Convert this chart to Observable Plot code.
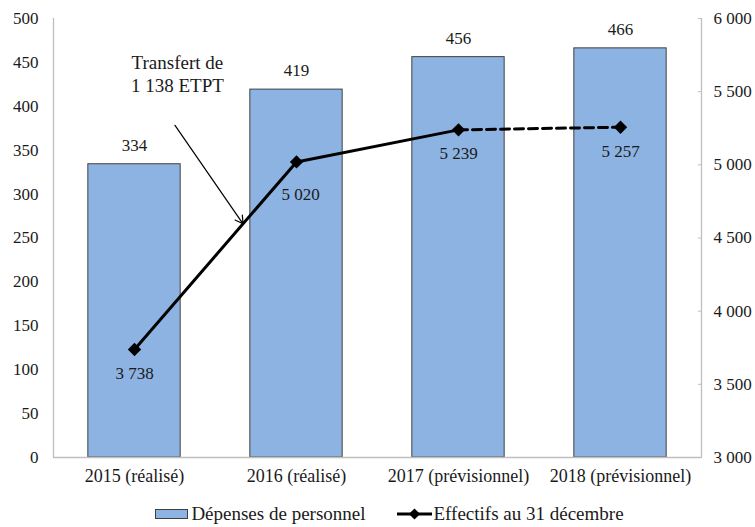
<!DOCTYPE html>
<html>
<head>
<meta charset="utf-8">
<script src="https://cdn.jsdelivr.net/npm/d3@7"></script>
<script src="https://cdn.jsdelivr.net/npm/@observablehq/plot@0.6"></script>
<style>
  body { margin: 0; background: #fff; color: #1a1a1a; }
  #chart svg { display: block; }
  #legend { display: flex; justify-content: center; align-items: center; gap: 31px; height: 22px; margin-top: 13px; padding-left: 23px; font-size: 19px; }
  #legend .item { display: flex; align-items: center; gap: 2px; }
</style>
</head>
<body style="font-family:'Liberation Serif', serif">
<div id="chart"></div>
<div id="legend" style="font-family:'Liberation Serif', serif"></div>
<script>
// Personnel spending (left axis, M€) and headcount at 31 December (right axis)
const years = ["2015 (réalisé)", "2016 (réalisé)", "2017 (prévisionnel)", "2018 (prévisionnel)"];
const depenses = [334, 419, 456, 466];
const effectifs = [3738, 5020, 5239, 5257];
const leftTicks = [0, 50, 100, 150, 200, 250, 300, 350, 400, 450, 500];
const rightTicks = [3000, 3500, 4000, 4500, 5000, 5500, 6000];
const seriesNames = ["Dépenses de personnel", "Effectifs au 31 décembre"];

// Annotation: transfer of staff between 2015 and 2016
const noteText = "Transfert de\n1 138 ETPT";
const noteAt = { x: 0.265, y: 5625 };
const arrowFrom = { x: 0.25, y: 5270 };
const arrowAlong = 0.67; // position of the arrow tip along the 2015–2016 segment

const serif = "'Liberation Serif', serif";
const barColor = "#8DB3E2";
const barStroke = "#404040";
const axisGray = "#BFBFBF";
const ink = "#1a1a1a";

// Map headcount onto the left (spending) scale: 3 000–6 000 ↔ 0–500
const rMin = 3000, rMax = 6000, lMax = 500;
const toLeft = v => (v - rMin) * lMax / (rMax - rMin);
const fromLeft = v => rMin + v * (rMax - rMin) / lMax;

const fr = d3.formatLocale({ decimal: ",", thousands: "\u00a0", grouping: [3], currency: ["", " €"] });
const fmt = fr.format(",d");

const idx = years.map((_, i) => i);
const halfBar = 0.285;

const tipX = arrowAlong;
const tipY = effectifs[0] + arrowAlong * (effectifs[1] - effectifs[0]);

const txt = { fontFamily: serif, fontSize: 17, fill: ink };

const chart = Plot.plot({
  width: 755,
  height: 490,
  marginLeft: 53,
  marginRight: 54,
  marginTop: 18,
  marginBottom: 33,
  style: "font-family: 'Liberation Serif', serif; font-size: 17px; color: #1a1a1a; background: #fff;",
  x: { type: "linear", domain: [-0.5, years.length - 0.5], axis: null },
  y: { domain: [0, lMax], axis: null },
  marks: [
    Plot.rectY(idx, { x1: i => i - halfBar, x2: i => i + halfBar, y: i => depenses[i], fill: barColor, stroke: barStroke, strokeWidth: 1 }),
    Plot.text(idx, { x: i => i, y: i => depenses[i], text: i => String(depenses[i]), dy: -19, ...txt }),
    // axes frame
    Plot.ruleY([0], { stroke: axisGray, strokeWidth: 1.3 }),
    Plot.ruleX([-0.5], { y1: 0, y2: lMax, stroke: axisGray, strokeWidth: 1.3 }),
    Plot.ruleX([years.length - 0.5], { y1: 0, y2: lMax, stroke: axisGray, strokeWidth: 1.3 }),
    Plot.axisX({ ticks: idx, tickFormat: i => years[i], tickSize: 0, tickPadding: 12, anchor: "bottom", ...txt, fontSize: 18 }),
    Plot.axisY({ ticks: leftTicks, tickSize: 0, tickPadding: 15, anchor: "left", ...txt }),
    Plot.axisY({ anchor: "right", ticks: rightTicks.map(toLeft), tickFormat: d => fmt(Math.round(fromLeft(d))), tickSize: -4, tickPadding: 16, stroke: axisGray, ...txt }),
    // headcount line: solid for actuals to 2017, dashed to 2018
    Plot.line(idx.slice(0, 3), { x: i => i, y: i => toLeft(effectifs[i]), stroke: "#000", strokeWidth: 3 }),
    Plot.line(idx.slice(2), { x: i => i, y: i => toLeft(effectifs[i]), stroke: "#000", strokeWidth: 3, strokeDasharray: "9,5" }),
    Plot.dot(idx, { x: i => i, y: i => toLeft(effectifs[i]), symbol: "diamond2", r: 6, fill: "#000", stroke: "none" }),
    Plot.text(idx.filter(i => i !== 1), { x: i => i, y: i => toLeft(effectifs[i]), text: i => fmt(effectifs[i]), dy: 24, ...txt }),
    Plot.text([1], { x: i => i, y: i => toLeft(effectifs[i]), text: i => fmt(effectifs[i]), dy: 33, dx: 4, ...txt }),
    // annotation
    Plot.text([noteText], { x: noteAt.x, y: toLeft(noteAt.y), text: d => d, lineHeight: 1.22, ...txt, fontSize: 19 }),
    Plot.arrow([0], { x1: arrowFrom.x, y1: toLeft(arrowFrom.y), x2: tipX, y2: toLeft(tipY), stroke: "#000", strokeWidth: 1.2, headLength: 11 })
  ]
});
document.getElementById("chart").append(chart);

// Legend below the chart
const legend = document.getElementById("legend");
const ns = "http://www.w3.org/2000/svg";
function item(svgContent, label) {
  const div = document.createElement("div");
  div.className = "item";
  const svg = document.createElementNS(ns, "svg");
  svg.setAttribute("width", 35);
  svg.setAttribute("height", 14);
  svg.innerHTML = svgContent;
  const span = document.createElement("span");
  span.textContent = label;
  div.append(svg, span);
  legend.append(div);
}
item(`<rect x="1.5" y="2.5" width="32" height="9" fill="${barColor}" stroke="${barStroke}" stroke-width="1"/>`, seriesNames[0]);
item(`<line x1="0" y1="7" x2="35" y2="7" stroke="#000" stroke-width="3"/><path d="${d3.symbol(d3.symbolDiamond2, 80)()}" transform="translate(17.5,7)" fill="#000"/>`, seriesNames[1]);
</script>
</body>
</html>
